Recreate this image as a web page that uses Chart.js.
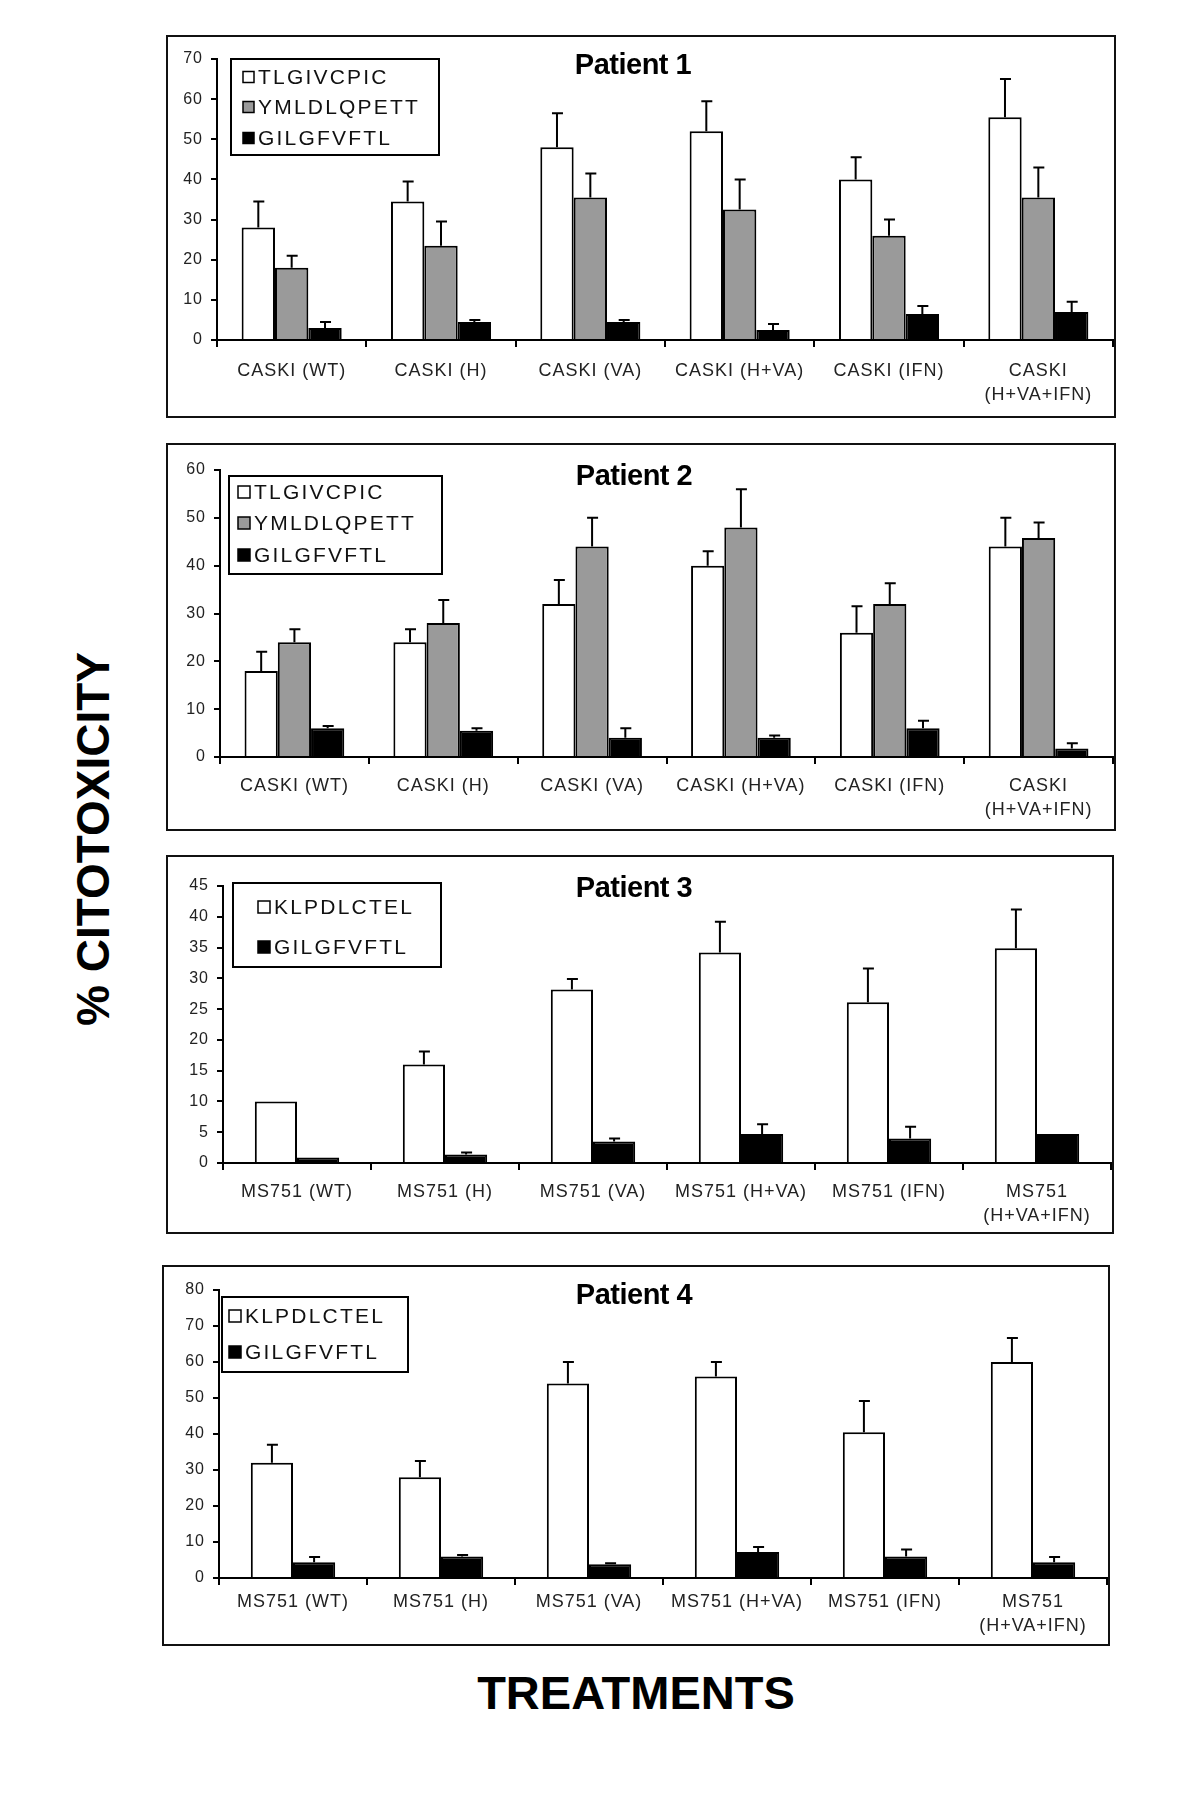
<!DOCTYPE html>
<html>
<head>
<meta charset="utf-8">
<script src="https://cdn.jsdelivr.net/npm/chart.js@4.4.1/dist/chart.umd.min.js"></script>
<style>
html,body{margin:0;padding:0;background:#fff;}
body{width:1200px;height:1820px;position:relative;overflow:hidden;font-family:"Liberation Sans",Arial,sans-serif;}
.panel{position:absolute;border:2px solid #111;box-sizing:border-box;background:#fff;}
.panel canvas{position:absolute;left:0;top:0;}
#ytitle{position:absolute;left:93px;top:839px;transform:translate(-50%,-50%) rotate(-90deg);font-weight:bold;font-size:46px;white-space:nowrap;letter-spacing:0px;color:#000;}
#xtitle{position:absolute;left:636px;top:1692px;transform:translate(-50%,-50%);font-weight:bold;font-size:47px;white-space:nowrap;color:#000;}
</style>
</head>
<body>
<div class="panel" id="box1" style="left:166px;top:35px;width:950px;height:383px;"><canvas id="c1"></canvas></div>
<div class="panel" id="box2" style="left:166px;top:443px;width:950px;height:388px;"><canvas id="c2"></canvas></div>
<div class="panel" id="box3" style="left:166px;top:855px;width:948px;height:379px;"><canvas id="c3"></canvas></div>
<div class="panel" id="box4" style="left:162px;top:1265px;width:948px;height:381px;"><canvas id="c4"></canvas></div>
<div id="ytitle">% CITOTOXICITY</div>
<div id="xtitle">TREATMENTS</div>
<script>
// ---------- DATA ----------
const caskiCategories = ['CASKI (WT)', 'CASKI (H)', 'CASKI (VA)', 'CASKI (H+VA)', 'CASKI (IFN)', ['CASKI', '(H+VA+IFN)']];
const ms751Categories = ['MS751 (WT)', 'MS751 (H)', 'MS751 (VA)', 'MS751 (H+VA)', 'MS751 (IFN)', ['MS751', '(H+VA+IFN)']];
const panelTitles = ['Patient 1', 'Patient 2', 'Patient 3', 'Patient 4'];

// Patient 1
const p1TLGIVCPIC = [28, 34.5, 48, 52, 40, 55.5];
const p1TLGIVCPICErr = [6.5, 5, 8.5, 7.5, 5.5, 9.5];
const p1YMLDLQPETT = [18, 23.5, 35.5, 32.5, 26, 35.5];
const p1YMLDLQPETTErr = [3, 6, 6, 7.5, 4, 7.5];
const p1GILGFVFTL = [3, 4.5, 4.5, 2.5, 6.5, 7];
const p1GILGFVFTLErr = [1.5, 0.5, 0.5, 1.5, 2, 2.5];

// Patient 2
const p2TLGIVCPIC = [18, 24, 32, 40, 26, 44];
const p2TLGIVCPICErr = [4, 2.7, 5, 3, 5.5, 6];
const p2YMLDLQPETT = [24, 28, 44, 48, 32, 45.8];
const p2YMLDLQPETTErr = [2.7, 4.8, 6, 8, 4.3, 3.2];
const p2GILGFVFTL = [6, 5.5, 4, 4, 6, 1.8];
const p2GILGFVFTLErr = [0.5, 0.5, 2, 0.5, 1.6, 1.1];

// Patient 3
const p3KLPDLCTEL = [10, 16, 28.2, 34.2, 26.1, 34.9];
const p3KLPDLCTELErr = [0, 2.1, 1.7, 5, 5.5, 6.3];
const p3GILGFVFTL = [0.9, 1.4, 3.5, 4.7, 4, 4.7];
const p3GILGFVFTLErr = [0, 0.3, 0.5, 1.6, 1.9, 0];

// Patient 4
const p4KLPDLCTEL = [32, 28, 54, 56, 40.5, 60];
const p4KLPDLCTELErr = [5, 4.5, 6, 4, 8.7, 6.7];
const p4GILGFVFTL = [4.4, 6, 3.8, 7.2, 6, 4.4];
const p4GILGFVFTLErr = [1.4, 0.4, 0.3, 1.4, 1.9, 1.4];

// y-axis ranges
const yMax = [70, 60, 45, 80];
const yStep = [10, 10, 5, 10];

// ---------- STYLE ----------
const WHITE = '#ffffff', GRAY = '#9a9a9a', BLACK = '#000000';
const FONT = '"Liberation Sans", Arial, sans-serif';

// ---------- PLUGINS ----------
const errorBarPlugin = {
  id: 'errorBars',
  afterDatasetsDraw(chart) {
    const ctx = chart.ctx, ys = chart.scales.y;
    chart.data.datasets.forEach((ds, i) => {
      if (!ds.errors) return;
      const meta = chart.getDatasetMeta(i);
      meta.data.forEach((bar, j) => {
        const e = ds.errors[j];
        if (!e) return;
        const top = ys.getPixelForValue(ds.data[j] + e);
        ctx.save();
        ctx.strokeStyle = '#000';
        ctx.lineWidth = 2;
        ctx.beginPath();
        ctx.moveTo(bar.x, bar.y);
        ctx.lineTo(bar.x, top);
        ctx.moveTo(bar.x - 5, top);
        ctx.lineTo(bar.x + 6, top);
        ctx.stroke();
        ctx.restore();
      });
    });
  }
};

const spacingPlugin = {
  id: 'spacing',
  beforeDraw(chart, args, opts) { chart.ctx.letterSpacing = opts.value || '0px'; },
  afterDraw(chart) { chart.ctx.letterSpacing = '0px'; }
};

const boxLegendPlugin = {
  id: 'boxLegend',
  afterDraw(chart, args, o) {
    if (!o || !o.w) return;
    const ctx = chart.ctx;
    ctx.save();
    ctx.letterSpacing = '0px';
    ctx.fillStyle = '#fff';
    ctx.fillRect(o.x, o.y, o.w, o.h);
    ctx.strokeStyle = '#000';
    ctx.lineWidth = 2;
    ctx.strokeRect(o.x, o.y, o.w, o.h);
    ctx.font = o.font;
    ctx.textBaseline = 'middle';
    ctx.textAlign = 'left';
    ctx.letterSpacing = o.spacing || '0px';
    chart.data.datasets.forEach((ds, i) => {
      const cy = o.rows[i];
      const s = o.swatch;
      ctx.fillStyle = ds.backgroundColor;
      ctx.fillRect(o.swatchX, cy - s / 2, s, s);
      ctx.lineWidth = 1.5;
      ctx.strokeStyle = '#000';
      ctx.strokeRect(o.swatchX, cy - s / 2, s, s);
      ctx.fillStyle = '#111';
      ctx.fillText(ds.label, o.textX, cy + 1);
    });
    ctx.restore();
  }
};

const panelTitlePlugin = {
  id: 'panelTitle',
  afterDraw(chart, args, o) {
    if (!o || !o.text) return;
    const ctx = chart.ctx;
    ctx.save();
    ctx.letterSpacing = '-0.5px';
    ctx.font = 'bold 29px ' + FONT;
    ctx.fillStyle = '#000';
    ctx.textAlign = 'center';
    ctx.textBaseline = 'middle';
    ctx.fillText(o.text, o.x, o.y);
    ctx.restore();
  }
};

Chart.register(errorBarPlugin, spacingPlugin, boxLegendPlugin, panelTitlePlugin);

// ---------- BUILD ----------
function makeChart(canvasId, boxId, cfg) {
  const box = document.getElementById(boxId);
  const w = box.clientWidth, h = box.clientHeight;
  const cv = document.getElementById(canvasId);
  cv.width = w; cv.height = h;
  cv.style.width = w + 'px'; cv.style.height = h + 'px';
  return new Chart(cv, {
    type: 'bar',
    data: { labels: cfg.labels, datasets: cfg.datasets },
    options: {
      responsive: false,
      animation: false,
      devicePixelRatio: 1,
      layout: { padding: { left: cfg.padLeft, right: cfg.padRight, top: cfg.padTop, bottom: 0 } },
      datasets: { bar: { categoryPercentage: cfg.catPct, barPercentage: 1.0, borderWidth: 2, borderColor: '#000', borderSkipped: 'bottom' } },
      scales: {
        x: {
          offset: true,
          afterFit: s => { s.height = cfg.xHeight; },
          border: { display: true, color: '#000', width: 2 },
          grid: { display: true, offset: true, drawOnChartArea: false, drawTicks: true, tickLength: 7, color: '#000', lineWidth: 2 },
          ticks: { color: '#222', font: { family: FONT, size: 18, lineHeight: 1.33 }, padding: cfg.labelPad, autoSkip: false, maxRotation: 0, minRotation: 0 }
        },
        y: {
          min: 0, max: cfg.yMax,
          afterFit: s => { s.width = 40; },
          border: { display: true, color: '#000', width: 2 },
          grid: { display: true, drawOnChartArea: false, drawTicks: true, tickLength: 6, color: '#000', lineWidth: 2 },
          ticks: { stepSize: cfg.yStep, color: '#222', font: { family: FONT, size: 16 }, padding: 8 }
        }
      },
      plugins: {
        legend: { display: false },
        tooltip: { enabled: false },
        title: { display: false },
        spacing: { value: '1px' },
        boxLegend: cfg.legend,
        panelTitle: cfg.title
      }
    }
  });
}

function ds(label, data, errors, color) {
  return { label: label, data: data, errors: errors, backgroundColor: color, borderColor: '#000', borderWidth: 2 };
}

makeChart('c1', 'box1', {
  labels: caskiCategories,
  datasets: [
    ds('TLGIVCPIC', p1TLGIVCPIC, p1TLGIVCPICErr, WHITE),
    ds('YMLDLQPETT', p1YMLDLQPETT, p1YMLDLQPETTErr, GRAY),
    ds('GILGFVFTL', p1GILGFVFTL, p1GILGFVFTLErr, BLACK)
  ],
  yMax: yMax[0], yStep: yStep[0], catPct: 0.67,
  padLeft: 9, padRight: 1, padTop: 22, xHeight: 76, labelPad: 12,
  legend: { x: 63, y: 22, w: 208, h: 96, rows: [40, 70, 101], swatch: 11, swatchX: 75, textX: 90, font: '21px ' + FONT, spacing: '2.2px' },
  title: { text: panelTitles[0], x: 465, y: 29 }
});

makeChart('c2', 'box2', {
  labels: caskiCategories,
  datasets: [
    ds('TLGIVCPIC', p2TLGIVCPIC, p2TLGIVCPICErr, WHITE),
    ds('YMLDLQPETT', p2YMLDLQPETT, p2YMLDLQPETTErr, GRAY),
    ds('GILGFVFTL', p2GILGFVFTL, p2GILGFVFTLErr, BLACK)
  ],
  yMax: yMax[1], yStep: yStep[1], catPct: 0.67,
  padLeft: 12, padRight: 1, padTop: 25, xHeight: 72, labelPad: 10,
  legend: { x: 61, y: 31, w: 213, h: 98, rows: [47, 78, 110], swatch: 12, swatchX: 70, textX: 86, font: '21px ' + FONT, spacing: '2.2px' },
  title: { text: panelTitles[1], x: 466, y: 32 }
});

makeChart('c3', 'box3', {
  labels: ms751Categories,
  datasets: [
    ds('KLPDLCTEL', p3KLPDLCTEL, p3KLPDLCTELErr, WHITE),
    ds('GILGFVFTL', p3GILGFVFTL, p3GILGFVFTLErr, BLACK)
  ],
  yMax: yMax[2], yStep: yStep[2], catPct: 0.57,
  padLeft: 15, padRight: 1, padTop: 29, xHeight: 69, labelPad: 10,
  legend: { x: 65, y: 26, w: 208, h: 84, rows: [50, 90], swatch: 12, swatchX: 90, textX: 106, font: '21px ' + FONT, spacing: '2.2px' },
  title: { text: panelTitles[2], x: 466, y: 32 }
});

makeChart('c4', 'box4', {
  labels: ms751Categories,
  datasets: [
    ds('KLPDLCTEL', p4KLPDLCTEL, p4KLPDLCTELErr, WHITE),
    ds('GILGFVFTL', p4GILGFVFTL, p4GILGFVFTLErr, BLACK)
  ],
  yMax: yMax[3], yStep: yStep[3], catPct: 0.57,
  padLeft: 15, padRight: 1, padTop: 23, xHeight: 66, labelPad: 5,
  legend: { x: 58, y: 30, w: 186, h: 75, rows: [49, 85], swatch: 12, swatchX: 65, textX: 81, font: '21px ' + FONT, spacing: '2.2px' },
  title: { text: panelTitles[3], x: 470, y: 29 }
});
</script>
</body>
</html>
